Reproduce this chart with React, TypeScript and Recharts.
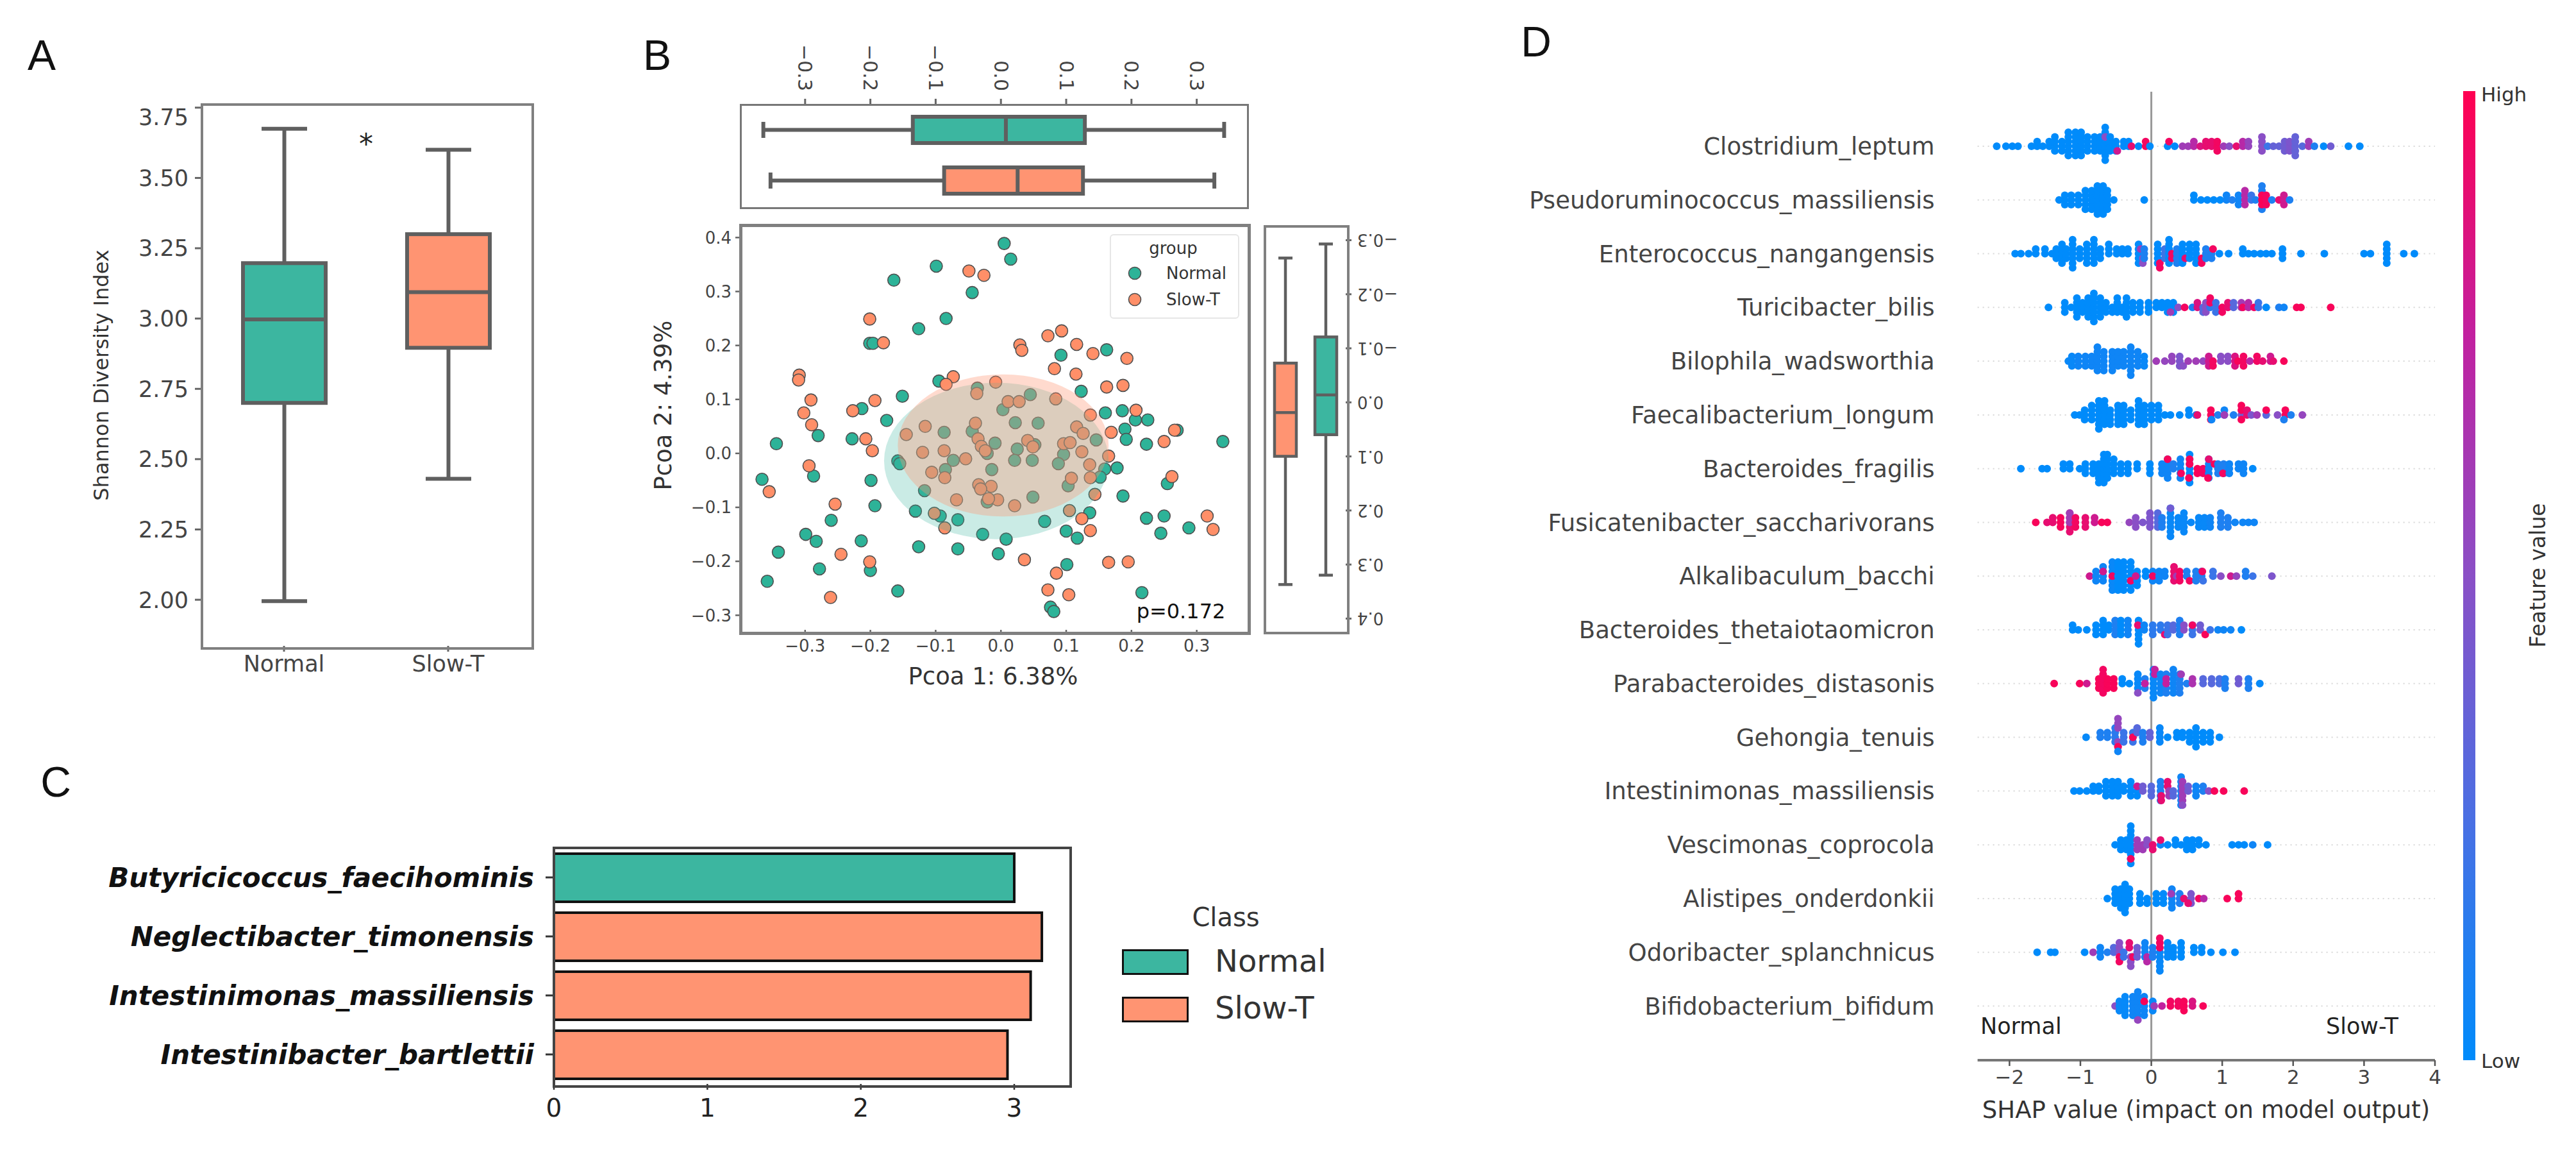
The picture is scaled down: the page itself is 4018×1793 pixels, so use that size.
import { Bar, Cell, ComposedChart, ReferenceArea, ReferenceLine, Scatter, ScatterChart, XAxis, YAxis } from 'recharts';

const FONT = 'DejaVu Sans';
const TEAL = '#3cb6a0';
const SALMON = '#ff9472';
const BOX_LINE = '#5f5f5f';

// ---- panel A
const shannonGroups = ['Normal', 'Slow-T'];
const shannonLow = [1.995, 2.43];
const shannonQ1 = [2.7, 2.896];
const shannonMedian = [2.997, 3.094];
const shannonQ3 = [3.197, 3.3];
const shannonHigh = [3.675, 3.6];
const shannonTicks = [2, 2.25, 2.5, 2.75, 3, 3.25, 3.5, 3.75];

// ---- panel B
const pcoaTicks = [-0.3, -0.2, -0.1, 0, 0.1, 0.2, 0.3];
const pcoaYTicks = [-0.3, -0.2, -0.1, 0, 0.1, 0.2, 0.3, 0.4];
const pc1Groups = ['Normal', 'Slow-T'];
const pc1Low = [-0.364, -0.353];
const pc1Q1 = [-0.135, -0.087];
const pc1Median = [0.0076, 0.0256];
const pc1Q3 = [0.1286, 0.1257];
const pc1High = [0.342, 0.327];
const pc2Groups = ['Slow-T', 'Normal'];
const pc2Low = [-0.267, -0.293];
const pc2Q1 = [-0.0726, -0.121];
const pc2Median = [0.0188, -0.0137];
const pc2Q3 = [0.0998, 0.0598];
const pc2High = [0.337, 0.3197];

const normalPoints = [
  [0.005, 0.389], [0.015, 0.36], [-0.099, 0.347], [-0.164, 0.321], [-0.044, 0.298], [-0.084, 0.25], [-0.126, 0.231],
  [-0.201, 0.204], [-0.196, 0.204], [0.092, 0.182], [0.162, 0.192], [-0.095, 0.134], [-0.036, 0.121], [0.123, 0.115],
  [-0.151, 0.106], [-0.213, 0.083], [0.045, 0.109], [0.003, 0.081], [0.16, 0.075], [0.186, 0.079], [0.225, 0.062],
  [0.206, 0.062], [0.19, 0.045], [0.27, 0.043], [-0.175, 0.061], [0.022, 0.057], [0.057, 0.056], [-0.087, 0.039],
  [-0.044, 0.041], [-0.28, 0.033], [-0.228, 0.027], [0.192, 0.026], [0.146, 0.025], [0.223, 0.017], [0.34, 0.022],
  [-0.344, 0.018], [-0.009, 0.019], [0.052, 0.016], [0.025, 0.008], [-0.021, 0], [0.096, -0.002], [-0.073, -0.013],
  [0.021, -0.013], [0.048, -0.013], [0.088, -0.019], [-0.158, -0.014], [-0.155, -0.019], [-0.085, -0.03], [-0.014, -0.03],
  [0.178, -0.027], [0.159, -0.029], [-0.366, -0.048], [-0.287, -0.042], [-0.199, -0.05], [0.152, -0.044], [0.103, -0.06],
  [0.255, -0.056], [-0.117, -0.069], [0.049, -0.081], [0.187, -0.079], [-0.021, -0.09], [-0.193, -0.097], [-0.131, -0.107],
  [0.136, -0.11], [-0.093, -0.116], [-0.066, -0.123], [-0.26, -0.124], [0.223, -0.12], [0.25, -0.116], [0.067, -0.126],
  [0.1, -0.144], [-0.028, -0.15], [0.245, -0.148], [0.288, -0.138], [-0.299, -0.15], [-0.283, -0.163], [-0.214, -0.162],
  [0.008, -0.159], [0.117, -0.157], [-0.126, -0.173], [-0.066, -0.177], [-0.341, -0.183], [-0.004, -0.186], [0.101, -0.206],
  [-0.278, -0.214], [-0.2, -0.217], [-0.358, -0.237], [-0.158, -0.255], [0.216, -0.258], [0.076, -0.285], [0.081, -0.293],
];
const slowPoints = [
  [-0.049, 0.338], [-0.026, 0.33], [-0.201, 0.249], [-0.18, 0.205], [0.093, 0.227], [0.072, 0.218], [0.029, 0.201],
  [0.032, 0.191], [0.116, 0.202], [0.141, 0.185], [0.193, 0.176], [0.082, 0.157], [0.115, 0.147], [-0.309, 0.145],
  [-0.31, 0.136], [-0.073, 0.142], [-0.084, 0.128], [-0.008, 0.132], [-0.037, 0.111], [0.162, 0.123], [0.187, 0.126],
  [-0.291, 0.099], [-0.193, 0.098], [0.011, 0.096], [0.028, 0.096], [0.084, 0.101], [-0.302, 0.075], [-0.227, 0.079],
  [0.207, 0.08], [0.137, 0.071], [-0.29, 0.053], [-0.116, 0.05], [-0.039, 0.056], [0.116, 0.049], [-0.145, 0.035],
  [0.126, 0.037], [0.169, 0.039], [-0.207, 0.027], [-0.035, 0.027], [0.041, 0.024], [0.25, 0.022], [0.266, 0.043],
  [-0.03, 0.013], [0.096, 0.018], [0.106, 0.02], [-0.197, 0.005], [-0.12, 0.002], [-0.087, 0.005], [-0.024, 0.005],
  [0.049, 0.012], [0.124, 0.003], [-0.054, -0.01], [0.165, -0.005], [-0.294, -0.023], [0.136, -0.021], [-0.106, -0.035],
  [-0.086, -0.045], [0.108, -0.046], [0.137, -0.045], [0.262, -0.043], [-0.034, -0.058], [-0.015, -0.061], [-0.031, -0.066],
  [-0.355, -0.071], [0.144, -0.076], [-0.005, -0.086], [-0.019, -0.084], [-0.068, -0.086], [-0.254, -0.094], [0.021, -0.097],
  [-0.102, -0.111], [0.105, -0.106], [0.316, -0.116], [0.124, -0.121], [-0.086, -0.138], [0.137, -0.143], [0.325, -0.141],
  [-0.245, -0.187], [0.036, -0.197], [-0.201, -0.201], [0.165, -0.202], [0.195, -0.201], [0.085, -0.222], [0.072, -0.253],
  [0.104, -0.262], [-0.261, -0.267],
];
// extents of the two confidence ellipses: xMin, xMax, yMin, yMax
const normalEllipse = [-0.179, 0.165, -0.159, 0.131];
const slowEllipse = [-0.158, 0.165, -0.117, 0.1465];

// ---- panel C
const ldaNames = ['Butyricicoccus_faecihominis', 'Neglectibacter_timonensis', 'Intestinimonas_massiliensis', 'Intestinibacter_bartlettii'];
const ldaScores = [3.0, 3.18, 3.107, 2.956];
const ldaClasses = ['Normal', 'Slow-T', 'Slow-T', 'Slow-T'];
const ldaTicks = [0, 1, 2, 3];

// ---- panel D
const shapFeatures = [
  'Clostridium_leptum', 'Pseudoruminococcus_massiliensis', 'Enterococcus_nangangensis', 'Turicibacter_bilis',
  'Bilophila_wadsworthia', 'Faecalibacterium_longum', 'Bacteroides_fragilis', 'Fusicatenibacter_saccharivorans',
  'Alkalibaculum_bacchi', 'Bacteroides_thetaiotaomicron', 'Parabacteroides_distasonis', 'Gehongia_tenuis',
  'Intestinimonas_massiliensis', 'Vescimonas_coprocola', 'Alistipes_onderdonkii', 'Odoribacter_splanchnicus',
  'Bifidobacterium_bifidum',
];
const shapTicks = [-2, -1, 0, 1, 2, 3, 4];

// each column of a swarm: shap value, highest stack step, lowest stack step, feature value (0 low, 1 high)
type Col = number[];
const clostridium: Col[] = [[-2.18,0,0,0],[-2.05,0,0,0],[-1.96,0,0,0],[-1.88,0,0,0],[-1.69,0,0,0],[-1.61,1,0,0],[-1.53,0,0,0],[-1.44,1,0,0],[-1.36,2,-1,0],[-1.26,1,-1,0],[-1.17,3,-2,0],[-1.07,3,-2,0],[-0.99,3,-2,0],[-0.9,2,-1,0],[-0.8,2,-1,0],[-0.72,2,-1,0],[-0.65,4,-3,0],[-0.65,2,2,0.5],[-0.58,2,-1,0],[-0.5,1,-1,0],[-0.48,-1,-1,0.8],[-0.39,1,0,0],[-0.32,1,0,0],[-0.28,0,0,0.9],[-0.18,0,0,0],[-0.08,1,0,0.95],[-0.02,0,0,0],[0.23,0,0,0],[0.25,1,1,0.95],[0.33,0,0,0],[0.44,0,0,0.6],[0.52,0,0,0.6],[0.6,1,0,0.7],[0.69,0,0,0.85],[0.77,1,0,0.9],[0.85,1,0,0.9],[0.93,1,-1,0.95],[1.02,0,0,0.6],[1.1,0,0,0.5],[1.2,0,0,0.9],[1.29,1,0,0.7],[1.37,1,0,0.55],[1.56,2,-1,0.5],[1.64,0,0,0.2],[1.72,0,0,0.35],[1.8,0,0,0.35],[1.88,1,-1,0.4],[1.95,1,-1,0.45],[2.03,2,-2,0.35],[2.13,0,0,0.3],[2.22,1,0,0.6],[2.3,0,0,0.1],[2.43,0,0,0],[2.53,0,0,0.4],[2.78,0,0,0],[2.94,0,0,0]];
const pseudoruminococcus: Col[] = [[-1.3,0,0,0],[-1.22,1,-1,0],[-1.13,1,-1,0],[-1.03,1,-1,0],[-0.93,2,-2,0],[-0.84,2,-2,0],[-0.76,3,-3,0],[-0.68,3,-3,0],[-0.62,2,-2,0],[-0.53,0,0,0],[-0.1,0,0,0],[0.6,1,0,0],[0.7,0,0,0],[0.79,0,0,0],[0.88,0,0,0],[0.97,0,0,0],[1.06,1,0,0.05],[1.14,0,0,0.1],[1.23,1,-1,0.05],[1.32,2,-1,0.7],[1.41,1,0,0.2],[1.47,0,0,0.1],[1.56,3,-2,0.1],[1.56,1,-1,0.98],[1.62,1,-1,0.95],[1.7,0,0,0.1],[1.8,0,0,0.9],[1.87,1,-1,0.8],[1.95,0,0,0.1]];
const enterococcus: Col[] = [[-1.92,0,0,0],[-1.84,0,0,0],[-1.73,0,0,0],[-1.63,1,0,0],[-1.5,1,0,0],[-1.4,0,0,0],[-1.34,1,-1,0],[-1.26,2,-2,0],[-1.2,1,-1,0],[-1.11,3,-3,0],[-1.01,1,-1,0],[-0.91,2,-2,0],[-0.81,3,-2,0],[-0.72,1,-1,0],[-0.6,2,0,0],[-0.49,1,0,0],[-0.41,1,0,0],[-0.33,1,0,0],[-0.18,2,-2,0],[-0.15,1,1,0.6],[-0.12,-1,-2,0.5],[-0.1,1,-1,0.1],[0.09,2,-2,0],[0.12,-2,-3,0.95],[0.19,1,-1,0.2],[0.25,3,-2,0],[0.29,0,-1,0.95],[0.36,1,-2,0.1],[0.44,2,-2,0],[0.48,-1,-1,0.9],[0.54,2,-1,0],[0.63,2,-2,0],[0.71,-1,-2,0.95],[0.77,1,-1,0.1],[0.85,0,-1,0.1],[0.87,1,1,0.95],[0.96,0,0,0],[1.09,0,0,0],[1.29,1,0,0],[1.37,0,0,0],[1.45,0,0,0],[1.54,0,0,0],[1.62,0,0,0],[1.7,0,0,0],[1.85,1,-1,0],[2.11,0,0,0],[2.44,0,0,0],[3.0,0,0,0],[3.09,0,0,0],[3.32,2,-2,0],[3.56,0,0,0],[3.71,0,0,0]];
const turicibacter: Col[] = [[-1.45,0,0,0],[-1.22,1,-1,0],[-1.13,0,0,0],[-1.05,2,-2,0],[-0.97,1,-1,0],[-0.89,2,-2,0],[-0.81,3,-3,0],[-0.72,2,-2,0],[-0.64,1,-1,0],[-0.55,0,-1,0],[-0.48,2,-1,0],[-0.41,0,-1,0],[-0.35,2,-2,0],[-0.26,1,-1,0],[-0.16,1,-1,0],[-0.04,1,-1,0],[0.07,1,0,0],[0.15,1,0,0],[0.23,1,-1,0],[0.31,1,-1,0],[0.27,-1,-1,0.6],[0.38,0,0,0.5],[0.47,0,0,0.95],[0.58,0,0,0.1],[0.65,1,0,0.85],[0.73,0,-1,0.3],[0.77,1,-1,0.5],[0.83,0,0,0.15],[0.83,2,1,0.95],[0.91,1,-1,0.2],[1.0,0,-1,0.95],[1.08,1,0,0.9],[1.16,1,0,0.3],[1.27,1,0,0.6],[1.29,0,0,0.95],[1.37,1,0,0.7],[1.45,0,0,0.95],[1.51,1,0,0.2],[1.62,0,0,0],[1.8,0,0,0.1],[1.87,0,0,0.05],[2.05,0,0,0.97],[2.11,0,0,0.97],[2.53,0,0,0.97]];
const bilophila: Col[] = [[-1.17,0,0,0.03],[-1.12,1,-1,0.03],[-1.03,1,-1,0.05],[-0.93,1,-1,0.05],[-0.84,1,-1,0.05],[-0.76,3,-2,0.05],[-0.67,2,-2,0.05],[-0.55,2,-2,0.05],[-0.47,2,-1,0.05],[-0.39,2,-1,0.05],[-0.29,3,-3,0.05],[-0.19,2,-1,0.05],[-0.1,1,-1,0.03],[0.07,0,0,0.6],[0.19,0,0,0.55],[0.29,1,0,0.55],[0.4,1,-1,0.45],[0.45,-1,-1,0.5],[0.52,0,0,0.6],[0.63,0,0,0.6],[0.73,0,0,0.55],[0.81,1,-1,0.8],[0.87,0,-1,0.95],[0.98,1,0,0.5],[1.08,1,0,0.5],[1.18,1,-1,0.85],[1.22,0,0,0.97],[1.3,1,-1,0.95],[1.39,0,0,0.7],[1.49,1,0,0.95],[1.57,0,0,0.9],[1.68,1,0,0.8],[1.72,0,0,0.9],[1.87,0,0,0.97]];
const faecalibacterium: Col[] = [[-1.08,0,0,0],[-1.01,0,0,0],[-0.94,1,-1,0],[-0.84,2,-1,0],[-0.74,3,-3,0],[-0.66,3,-2,0],[-0.58,1,-2,0],[-0.47,2,-2,0],[-0.39,2,-2,0],[-0.29,1,-1,0],[-0.18,3,-2,0],[-0.1,2,-2,0],[0,2,-1,0],[0.1,2,-1,0],[0.19,0,0,0],[0.27,0,0,0],[0.4,0,0,0],[0.53,1,0,0],[0.63,0,0,0.1],[0.65,0,0,0.9],[0.84,1,-1,0.97],[0.85,-1,-1,0.05],[0.94,0,0,0.1],[1.03,1,0,0.05],[1.03,0,0,0.6],[1.16,0,0,0.1],[1.27,0,0,0.4],[1.27,2,1,0.97],[1.27,-1,-1,0.97],[1.35,1,0,0.9],[1.41,0,0,0.45],[1.49,0,0,0.6],[1.62,0,0,0.3],[1.62,1,1,0.97],[1.78,0,0,0.5],[1.89,1,0,0.97],[1.87,-1,-1,0.1],[1.97,0,0,0.1],[2.13,0,0,0.55]];
const fragilis: Col[] = [[-1.84,0,0,0],[-1.54,0,0,0],[-1.47,0,0,0],[-1.24,1,0,0],[-1.15,1,0,0],[-1.01,0,0,0],[-0.93,1,-1,0],[-0.82,1,-1,0],[-0.74,1,-3,0],[-0.67,3,-3,0],[-0.62,3,-2,0],[-0.53,2,-1,0],[-0.43,1,-1,0],[-0.33,1,-1,0],[-0.2,1,0,0],[-0.02,1,-1,0],[0.15,1,-1,0.05],[0.23,2,-2,0.05],[0.23,2,2,0.97],[0.31,1,0,0.1],[0.41,2,-2,0.05],[0.42,-1,-1,0.95],[0.54,3,-3,0],[0.54,2,1,0.97],[0.53,-2,-2,0.97],[0.65,0,-1,0.97],[0.73,0,-1,0.95],[0.81,2,-2,0.05],[0.81,2,2,0.9],[0.8,-2,-2,0.97],[0.89,1,1,0.97],[0.94,1,-1,0.1],[1.02,1,-1,0.1],[1.01,-1,-1,0.95],[1.1,1,-1,0.05],[1.23,1,0,0.05],[1.3,1,-1,0.05],[1.43,0,0,0]];
const fusicatenibacter: Col[] = [[-1.63,0,0,0.97],[-1.47,0,0,0.9],[-1.39,1,0,0.9],[-1.28,1,-1,0.97],[-1.15,2,-2,0.9],[-1.15,2,0,0.6],[-1.07,1,-1,0.95],[-0.93,1,-1,0.9],[-0.8,1,0,0.8],[-0.7,0,0,0.97],[-0.62,0,0,0.97],[-0.31,0,0,0.55],[-0.22,1,-1,0.5],[-0.12,0,0,0.45],[-0.02,2,-1,0.45],[0.09,2,-1,0.3],[0.15,1,-1,0.1],[0.27,3,-3,0.03],[0.27,3,3,0.4],[0.38,1,-1,0.03],[0.46,2,-2,0.03],[0.56,0,0,0.03],[0.67,1,-1,0.03],[0.75,1,-1,0.03],[0.83,1,-1,0.05],[0.98,2,-1,0.1],[1.08,1,-1,0.1],[1.18,0,0,0.05],[1.29,0,0,0.05],[1.37,0,0,0.05],[1.45,0,0,0.05]];
const alkalibaculum: Col[] = [[-0.87,0,0,0.8],[-0.78,1,-1,0.05],[-0.68,2,-1,0.05],[-0.68,1,1,0.8],[-0.55,3,-3,0.03],[-0.55,0,0,0.95],[-0.47,3,-3,0],[-0.39,3,-3,0],[-0.29,3,-3,0],[-0.29,-1,-1,0.95],[-0.2,1,-2,0],[-0.22,0,0,0.8],[-0.08,1,0,0],[0.02,1,-1,0.05],[0.02,0,0,0.95],[0.11,1,-1,0.05],[0.19,1,0,0.05],[0.32,2,-1,0.9],[0.36,0,0,0.6],[0.4,1,-1,0.95],[0.5,1,0,0.1],[0.54,-1,-1,0.95],[0.63,1,-1,0.1],[0.71,1,0,0.1],[0.72,1,1,0.95],[0.73,-1,-1,0.2],[0.87,1,0,0.2],[0.98,0,0,0.5],[1.12,0,0,0.8],[1.2,0,0,0.55],[1.33,1,0,0.1],[1.43,0,0,0.2],[1.7,0,0,0.45]];
const thetaiotaomicron: Col[] = [[-1.11,1,0,0],[-1.03,0,0,0],[-0.91,0,0,0],[-0.78,1,-1,0],[-0.68,2,-1,0],[-0.6,1,0,0],[-0.51,2,-1,0.1],[-0.43,2,-1,0],[-0.33,2,-1,0.05],[-0.18,2,-3,0],[-0.19,1,1,0.9],[-0.1,1,0,0.05],[0.02,1,-1,0.15],[0.13,1,0,0.15],[0.19,-1,-1,0.9],[0.23,1,-1,0.2],[0.31,1,0,0.3],[0.4,2,-1,0.1],[0.46,1,0,0.5],[0.58,1,-1,0.2],[0.58,1,1,0.95],[0.69,1,0,0.4],[0.76,-1,-1,0.97],[0.83,0,0,0.2],[0.94,0,0,0.05],[1.02,0,0,0.05],[1.12,0,0,0.05],[1.27,0,0,0]];
const parabacteroides: Col[] = [[-1.37,0,0,0.97],[-1.01,0,0,0.97],[-0.91,0,0,0.8],[-0.74,1,-1,0.97],[-0.68,3,-2,0.95],[-0.62,1,-1,0.97],[-0.53,1,-1,0.97],[-0.41,1,0,0],[-0.31,0,0,0],[-0.19,2,-1,0.03],[-0.19,-2,-2,0.5],[-0.09,1,-1,0.1],[-0.09,0,0,0.75],[0.03,3,-3,0.03],[0.05,3,2,0.75],[0.13,2,-2,0.05],[0.21,2,-2,0.1],[0.21,1,0,0.75],[0.31,3,-2,0.05],[0.4,2,-2,0.1],[0.42,2,2,0.6],[0.5,0,0,0.1],[0.58,1,0,0.65],[0.73,1,0,0.3],[0.85,1,0,0.3],[0.96,1,0,0.25],[1.04,1,-1,0.1],[1.23,1,0,0.4],[1.37,1,-1,0.1],[1.53,0,0,0.02]];
const gehongia: Col[] = [[-0.92,0,0,0.02],[-0.72,1,0,0.1],[-0.62,1,0,0.1],[-0.51,2,-1,0.15],[-0.47,4,2,0.55],[-0.47,-1,-2,0.55],[-0.47,-2,-2,0.97],[-0.47,-3,-3,0.05],[-0.39,1,-1,0.2],[-0.26,1,-1,0.2],[-0.26,0,0,0.97],[-0.2,2,1,0.3],[-0.12,1,-1,0.1],[-0.02,1,0,0.35],[0.12,2,-1,0.03],[0.23,0,0,0],[0.36,1,0,0],[0.44,1,0,0],[0.54,1,-1,0],[0.63,2,-2,0],[0.73,1,-1,0],[0.83,1,-1,0],[0.96,0,0,0]];
const intestinimonas: Col[] = [[-1.09,0,0,0],[-1.01,0,0,0],[-0.91,0,0,0],[-0.82,1,0,0],[-0.74,1,0,0],[-0.64,2,-1,0],[-0.55,2,-1,0],[-0.47,2,-1,0],[-0.39,1,0,0],[-0.29,2,-1,0],[-0.2,1,-1,0],[-0.2,1,1,0.8],[-0.12,1,0,0.4],[0,1,-1,0.3],[0.13,2,-2,0.1],[0.14,-1,-2,0.9],[0.23,2,1,0.9],[0.25,0,-1,0.6],[0.31,0,-1,0.3],[0.42,3,-3,0.05],[0.44,2,-2,0.6],[0.44,-3,-3,0.5],[0.52,1,0,0.4],[0.63,1,-1,0.05],[0.73,1,0,0.1],[0.81,0,0,0.5],[0.89,0,0,0.97],[1.02,0,0,0.97],[1.31,0,0,0.97]];
const vescimonas: Col[] = [[-0.51,0,0,0],[-0.43,1,-1,0],[-0.35,1,-1,0],[-0.29,4,-4,0],[-0.29,-3,-3,0.95],[-0.2,1,-1,0.6],[-0.12,0,-1,0.6],[-0.06,1,0,0.5],[0.02,0,-1,0.9],[0.13,0,0,0.05],[0.13,1,1,0.9],[0.23,0,0,0],[0.34,1,0,0],[0.42,0,0,0],[0.5,1,-1,0],[0.58,1,-1,0],[0.67,1,0,0],[0.77,0,0,0],[1.14,0,0,0],[1.23,0,0,0],[1.31,0,0,0],[1.43,0,0,0.05],[1.64,0,0,0]];
const alistipes: Col[] = [[-0.62,0,0,0],[-0.51,2,-1,0],[-0.43,2,-2,0],[-0.37,3,-3,0],[-0.31,2,-1,0],[-0.16,1,-1,0],[-0.06,0,-1,0],[0.07,1,-1,0],[0.17,1,-1,0],[0.29,2,-2,0.05],[0.28,1,1,0.6],[0.4,1,-1,0.1],[0.46,0,0,0.9],[0.56,1,-1,0.45],[0.52,-1,-1,0.9],[0.67,0,0,0.95],[0.74,0,0,0.7],[1.07,0,0,0.97],[1.23,1,0,0.97]];
const odoribacter: Col[] = [[-1.61,0,0,0],[-1.42,0,0,0],[-1.36,0,0,0],[-0.94,0,0,0],[-0.82,0,0,0.6],[-0.72,1,-1,0.05],[-0.62,0,0,0.1],[-0.53,1,0,0.3],[-0.45,2,0,0.5],[-0.45,-1,-2,0.95],[-0.39,0,-1,0.2],[-0.31,2,1,0.9],[-0.29,-1,-3,0.5],[-0.26,-1,-1,0.95],[-0.2,1,-1,0.4],[-0.09,2,-1,0.05],[-0.06,-1,-2,0.7],[0.02,1,-1,0.1],[0.12,0,-4,0.03],[0.12,3,1,0.95],[0.23,2,-1,0.02],[0.31,1,-1,0],[0.42,2,-1,0],[0.6,1,0,0],[0.71,1,0,0],[0.84,0,0,0],[1.01,0,0,0],[1.18,0,0,0]];
const bifidobacterium: Col[] = [[-0.51,0,0,0.5],[-0.45,1,-1,0.03],[-0.37,2,-2,0.02],[-0.26,2,-2,0.05],[-0.19,3,-2,0.05],[-0.19,-3,-3,0.55],[-0.1,2,-2,0.05],[-0.1,1,1,0.97],[0.02,1,-1,0.03],[0.04,0,0,0.6],[0.15,0,0,0.75],[0.27,1,0,0.95],[0.38,1,0,0.95],[0.46,1,-1,0.97],[0.58,1,0,0.85],[0.73,0,0,0.97]];
const shapRows = [clostridium, pseudoruminococcus, enterococcus, turicibacter, bilophila, faecalibacterium, fragilis, fusicatenibacter, alkalibaculum, thetaiotaomicron, parabacteroides, gehongia, intestinimonas, vescimonas, alistipes, odoribacter, bifidobacterium];

const STACK_STEP = 0.087; // one dot, in row units
const shapPoints: { x: number; y: number; heat: number }[] = [];
shapRows.forEach((cols, row) => {
  cols.forEach(([x, top, bottom, heat]) => {
    for (let k = bottom; k <= top; k++) shapPoints.push({ x, y: row - k * STACK_STEP, heat });
  });
});

const heatStops = ['#008bfb', '#4a6fe3', '#8a4fc6', '#c2209f', '#ff0051'];
function heatColor(t: number) {
  const pos = Math.min(0.999, t) * (heatStops.length - 1);
  const i = Math.floor(pos);
  const a = parseInt(heatStops[i].slice(1), 16);
  const b = parseInt(heatStops[i + 1].slice(1), 16);
  const f = pos - i;
  const mix = (s: number) => Math.round(((a >> s) & 255) * (1 - f) + ((b >> s) & 255) * f);
  return `rgb(${mix(16)},${mix(8)},${mix(0)})`;
}

const minus = (s: string) => s.replace('-', '\u2212');
const fmt1 = (v: number) => minus(v.toFixed(1));

function makeBoxes(groups: string[], low: number[], q1: number[], med: number[], q3: number[], high: number[]) {
  return groups.map((name, i) => ({ name, low: low[i], q1: q1[i], med: med[i], q3: q3[i], high: high[i], box: [q1[i], q3[i]] }));
}

// draws box, median and whiskers; pixels per unit comes from the bar the scale already placed
function VBox(props: any) {
  const { x, y, width, height, payload, fill, capW, sw, reversed } = props;
  const { low, q1, med, q3, high } = payload;
  const top = Math.min(y, y + height);
  const bottom = Math.max(y, y + height);
  const unit = Math.abs(height) / (q3 - q1);
  const py = (v: number) => (reversed ? top + (v - q1) * unit : bottom - (v - q1) * unit);
  const cx = x + width / 2;
  return (
    <g stroke={BOX_LINE} strokeWidth={sw}>
      <line x1={cx} x2={cx} y1={py(low)} y2={py(q1)} />
      <line x1={cx} x2={cx} y1={py(q3)} y2={py(high)} />
      <line x1={cx - capW / 2} x2={cx + capW / 2} y1={py(low)} y2={py(low)} />
      <line x1={cx - capW / 2} x2={cx + capW / 2} y1={py(high)} y2={py(high)} />
      <rect x={x} y={top} width={width} height={bottom - top} fill={fill} />
      <line x1={x} x2={x + width} y1={py(med)} y2={py(med)} />
    </g>
  );
}

function HBox(props: any) {
  const { x, y, width, height, payload, fill, capW, sw } = props;
  const { low, q1, med, q3, high } = payload;
  const unit = width / (q3 - q1);
  const px = (v: number) => x + (v - q1) * unit;
  const cy = y + height / 2;
  return (
    <g stroke={BOX_LINE} strokeWidth={sw}>
      <line y1={cy} y2={cy} x1={px(low)} x2={px(q1)} />
      <line y1={cy} y2={cy} x1={px(q3)} x2={px(high)} />
      <line y1={cy - capW / 2} y2={cy + capW / 2} x1={px(low)} x2={px(low)} />
      <line y1={cy - capW / 2} y2={cy + capW / 2} x1={px(high)} x2={px(high)} />
      <rect x={x} y={y} width={width} height={height} fill={fill} />
      <line y1={y} y2={y + height} x1={px(med)} x2={px(med)} />
    </g>
  );
}

function TopTick({ x, y, payload }: any) {
  return (
    <text x={x} y={y} transform={`rotate(90,${x},${y})`} textAnchor="end" dominantBaseline="central" fontFamily={FONT} fontSize={30} fill="#444">
      {fmt1(payload.value)}
    </text>
  );
}

function FlippedTick({ x, y, payload }: any) {
  return (
    <text x={x} y={y} transform={`rotate(180,${x},${y})`} textAnchor="end" dominantBaseline="central" fontFamily={FONT} fontSize={26} fill="#444">
      {fmt1(payload.value)}
    </text>
  );
}

function Label({ x, y, size, children, rotate = 0, color = '#333', family = FONT, align = 'center' }: any) {
  const tx = align === 'center' ? '-50%' : align === 'right' ? '-100%' : '0';
  return (
    <div style={{ position: 'absolute', left: x, top: y, transform: `translate(${tx},-50%) rotate(${rotate}deg)`, fontFamily: family, fontSize: size, color, whiteSpace: 'nowrap', lineHeight: 1 }}>
      {children}
    </div>
  );
}

function Frame({ left, top, right, bottom, color = '#808080', w = 4 }: any) {
  return <div style={{ position: 'absolute', left: left - w / 2, top: top - w / 2, width: right - left, height: bottom - top, border: `${w}px solid ${color}` }} />;
}

function Place({ left, top, children }: any) {
  return <div style={{ position: 'absolute', left, top }}>{children}</div>;
}

const ellipseShape = (fill: string) => (p: any) => (
  <ellipse cx={p.x + p.width / 2} cy={p.y + p.height / 2} rx={Math.abs(p.width) / 2} ry={Math.abs(p.height) / 2} fill={fill} stroke="none" />
);

const dotShape = (fill: string) => (p: any) => <circle cx={p.cx} cy={p.cy} r={9.5} fill={fill} stroke="#4f4f4f" strokeWidth={1.6} />;

const toXY = (pts: number[][]) => pts.map(([x, y]) => ({ x, y }));

const LETTER = 'Liberation Sans';
const tickStyle = (size: number, fill = '#444') => ({ fontFamily: FONT, fontSize: size, fill });

export default function App() {
  const shannonData = makeBoxes(shannonGroups, shannonLow, shannonQ1, shannonMedian, shannonQ3, shannonHigh);
  const pc1Data = makeBoxes(pc1Groups, pc1Low, pc1Q1, pc1Median, pc1Q3, pc1High);
  const pc2Data = makeBoxes(pc2Groups, pc2Low, pc2Q1, pc2Median, pc2Q3, pc2High);
  const ldaData = ldaNames.map((name, i) => ({ name, score: ldaScores[i], cls: ldaClasses[i] }));

  return (
    <div style={{ position: 'absolute', left: 0, top: 0, width: 4018, height: 1793, background: '#fff', overflow: 'hidden' }}>
      <Label x={65} y={86} size={66} family={LETTER} color="#111">A</Label>
      <Label x={1025} y={86} size={66} family={LETTER} color="#111">B</Label>
      <Label x={87} y={1219} size={66} family={LETTER} color="#111">C</Label>
      <Label x={2396} y={65} size={66} family={LETTER} color="#111">D</Label>

      {/* A */}
      <Place left={195} top={163}>
        <ComposedChart width={632} height={914} data={shannonData} margin={{ top: 0, right: 0, bottom: 0, left: 0 }}>
          <XAxis dataKey="name" height={70} axisLine={false} tickSize={9} tickMargin={6} tick={tickStyle(35)} tickLine={{ stroke: '#666', strokeWidth: 3 }} />
          <YAxis type="number" width={120} domain={[1.836, 3.761]} allowDataOverflow ticks={shannonTicks} tickFormatter={(v: number) => v.toFixed(2)} axisLine={false} tickSize={11} tickMargin={10} tick={tickStyle(35)} tickLine={{ stroke: '#666', strokeWidth: 3 }} />
          <Bar dataKey="box" barSize={129} isAnimationActive={false} shape={(p: any) => <VBox {...p} fill={p.payload.name === 'Normal' ? TEAL : SALMON} capW={71} sw={6} />} />
        </ComposedChart>
      </Place>
      <Frame left={315} top={163} right={827} bottom={1007} />
      <Label x={571} y={225} size={44} color="#222">*</Label>
      <Label x={158} y={585} size={32} rotate={-90}>Shannon Diversity Index</Label>

      {/* B top box, the chart runs up to the page area of the rotated tick labels */}
      <Place left={1155} top={55}>
        <ComposedChart width={788} height={266} layout="vertical" data={pc1Data} margin={{ top: 0, right: 0, bottom: 0, left: 0 }}>
          <XAxis type="number" orientation="top" height={108} domain={[-0.399, 0.375]} allowDataOverflow ticks={pcoaTicks} axisLine={false} tickSize={9} tickMargin={12} tick={<TopTick />} tickLine={{ stroke: '#666', strokeWidth: 3 }} />
          <YAxis type="category" dataKey="name" width={0} hide />
          <Bar dataKey="box" barSize={41} isAnimationActive={false} shape={(p: any) => <HBox {...p} fill={p.payload.name === 'Normal' ? TEAL : SALMON} capW={25} sw={6} />} />
        </ComposedChart>
      </Place>
      <Frame left={1155} top={163} right={1943} bottom={321} w={3} color="#777" />

      {/* B scatter */}
      <Place left={1035} top={351}>
        <ScatterChart width={908} height={711} margin={{ top: 0, right: 0, bottom: 0, left: 0 }}>
          <XAxis type="number" dataKey="x" height={80} domain={[-0.399, 0.375]} allowDataOverflow ticks={pcoaTicks} tickFormatter={fmt1} axisLine={false} tickSize={8} tickMargin={8} tick={tickStyle(26)} tickLine={{ stroke: '#666', strokeWidth: 2.5 }} />
          <YAxis type="number" dataKey="y" width={120} domain={[-0.327, 0.423]} allowDataOverflow ticks={pcoaYTicks} tickFormatter={fmt1} axisLine={false} tickSize={8} tickMargin={6} tick={tickStyle(26)} tickLine={{ stroke: '#666', strokeWidth: 2.5 }} />
          <Scatter data={toXY(normalPoints)} isAnimationActive={false} shape={dotShape('#2db398')} />
          <Scatter data={toXY(slowPoints)} isAnimationActive={false} shape={dotShape('#ff8f68')} />
        </ScatterChart>
      </Place>
      {/* ellipses sit over the dots, so they get their own chart on the same scales */}
      <Place left={1155} top={351}>
        <ScatterChart width={788} height={631} margin={{ top: 0, right: 0, bottom: 0, left: 0 }}>
          <XAxis type="number" dataKey="x" hide domain={[-0.399, 0.375]} allowDataOverflow />
          <YAxis type="number" dataKey="y" hide domain={[-0.327, 0.423]} allowDataOverflow />
          <ReferenceArea x1={normalEllipse[0]} x2={normalEllipse[1]} y1={normalEllipse[2]} y2={normalEllipse[3]} shape={ellipseShape('rgba(60,182,160,0.27)')} />
          <ReferenceArea x1={slowEllipse[0]} x2={slowEllipse[1]} y1={slowEllipse[2]} y2={slowEllipse[3]} shape={ellipseShape('rgba(255,148,114,0.35)')} />
        </ScatterChart>
      </Place>
      <Frame left={1155} top={351} right={1943} bottom={982} w={5} color="#808080" />
      <div style={{ position: 'absolute', left: 1731, top: 365, width: 198, height: 128, border: '2px solid #e6e6e6', borderRadius: 6, background: 'rgba(255,255,255,0.8)' }} />
      <Label x={1830} y={387} size={26}>group</Label>
      <svg style={{ position: 'absolute', left: 1750, top: 410, width: 40, height: 75 }}>
        <circle cx={20} cy={16} r={9.5} fill="#2db398" stroke="#4f4f4f" strokeWidth={1.6} />
        <circle cx={20} cy={57} r={9.5} fill="#ff8f68" stroke="#4f4f4f" strokeWidth={1.6} />
      </svg>
      <Label x={1819} y={426} size={26} align="left">Normal</Label>
      <Label x={1819} y={467} size={26} align="left">Slow-T</Label>
      <Label x={1842} y={953} size={32} color="#111">p=0.172</Label>
      <Label x={1549} y={1054} size={37}>Pcoa 1: 6.38%</Label>
      <Label x={1034} y={632} size={37} rotate={-90}>Pcoa 2: 4.39%</Label>

      {/* B right box */}
      <Place left={1973} top={353}>
        <ComposedChart width={210} height={630} data={pc2Data} margin={{ top: 0, right: 0, bottom: 0, left: 0 }}>
          <XAxis dataKey="name" hide />
          <YAxis type="number" orientation="right" reversed width={84} domain={[-0.3255, 0.422]} allowDataOverflow ticks={pcoaYTicks} axisLine={false} tickSize={9} tickMargin={9} tick={<FlippedTick />} tickLine={{ stroke: '#666', strokeWidth: 3 }} />
          <Bar dataKey="box" barSize={34} isAnimationActive={false} shape={(p: any) => <VBox {...p} reversed fill={p.payload.name === 'Normal' ? TEAL : SALMON} capW={22} sw={4.5} />} />
        </ComposedChart>
      </Place>
      <Frame left={1973} top={353} right={2099} bottom={983} />

      {/* C */}
      <Place left={64} top={1322}>
        <ComposedChart width={1602} height={458} layout="vertical" data={ldaData} margin={{ top: 0, right: 0, bottom: 0, left: 0 }}>
          <XAxis type="number" height={90} domain={[0, 3.351]} allowDataOverflow ticks={ldaTicks} axisLine={false} tickSize={9} tickMargin={14} tick={tickStyle(39, '#222')} tickLine={{ stroke: '#333', strokeWidth: 2.5 }} />
          <YAxis type="category" dataKey="name" width={800} interval={0} axisLine={false} tickSize={13} tickMargin={18} tick={{ fontFamily: FONT, fontSize: 42, fontWeight: 'bold', fontStyle: 'italic', fill: '#111' }} tickLine={{ stroke: '#333', strokeWidth: 3 }} />
          <Bar dataKey="score" barSize={75} stroke="#111" strokeWidth={4} isAnimationActive={false}>
            {ldaData.map((d) => (
              <Cell key={d.name} fill={d.cls === 'Normal' ? TEAL : SALMON} />
            ))}
          </Bar>
        </ComposedChart>
      </Place>
      <Frame left={864} top={1322} right={1666} bottom={1690} w={4} color="#444" />
      <Label x={1912} y={1430} size={40}>Class</Label>
      <div style={{ position: 'absolute', left: 1750, top: 1480, width: 98, height: 34, background: TEAL, border: '3px solid #111' }} />
      <div style={{ position: 'absolute', left: 1750, top: 1554, width: 98, height: 34, background: SALMON, border: '3px solid #111' }} />
      <Label x={1895} y={1498} size={48} align="left">Normal</Label>
      <Label x={1895} y={1571} size={48} align="left">Slow-T</Label>

      {/* D */}
      <Place left={2284} top={143}>
        <ScatterChart width={1544} height={1600} margin={{ top: 0, right: 30, bottom: 0, left: 0 }}>
          <XAxis type="number" dataKey="x" height={90} domain={[-2.45, 4]} allowDataOverflow ticks={shapTicks} tickFormatter={(v: number) => minus(String(v))} axisLine={{ stroke: '#777', strokeWidth: 4 }} tickSize={9} tickMargin={6} tick={tickStyle(31)} tickLine={{ stroke: '#555', strokeWidth: 2.5 }} />
          <YAxis type="number" dataKey="y" reversed width={800.6} domain={[-1.0146, 17.009]} allowDataOverflow ticks={shapFeatures.map((_, i) => i)} interval={0} tickFormatter={(v: number) => shapFeatures[v]} axisLine={false} tickLine={false} tickSize={0} tickMargin={67} tick={tickStyle(37)} />
          {shapFeatures.map((name, i) => (
            <ReferenceLine key={name} y={i} stroke="#d8d8d8" strokeWidth={2} strokeDasharray="2 6" />
          ))}
          <Scatter data={shapPoints} isAnimationActive={false} shape={(p: any) => <circle cx={p.cx} cy={p.cy} r={6} fill={heatColor(p.payload.heat)} />} />
          <ReferenceLine x={0} stroke="#999" strokeWidth={3} />
        </ScatterChart>
      </Place>
      <Label x={3089} y={1600} size={35} align="left" color="#222">Normal</Label>
      <Label x={3628} y={1600} size={35} align="left" color="#222">Slow-T</Label>
      <Label x={3441} y={1730} size={37}>SHAP value (impact on model output)</Label>
      <div style={{ position: 'absolute', left: 3842, top: 142, width: 19, height: 1511, background: `linear-gradient(to top, ${heatStops.join(', ')})` }} />
      <Label x={3870} y={147} size={31} align="left">High</Label>
      <Label x={3870} y={1654} size={31} align="left">Low</Label>
      <Label x={3958} y={897} size={33} rotate={-90}>Feature value</Label>
    </div>
  );
}
